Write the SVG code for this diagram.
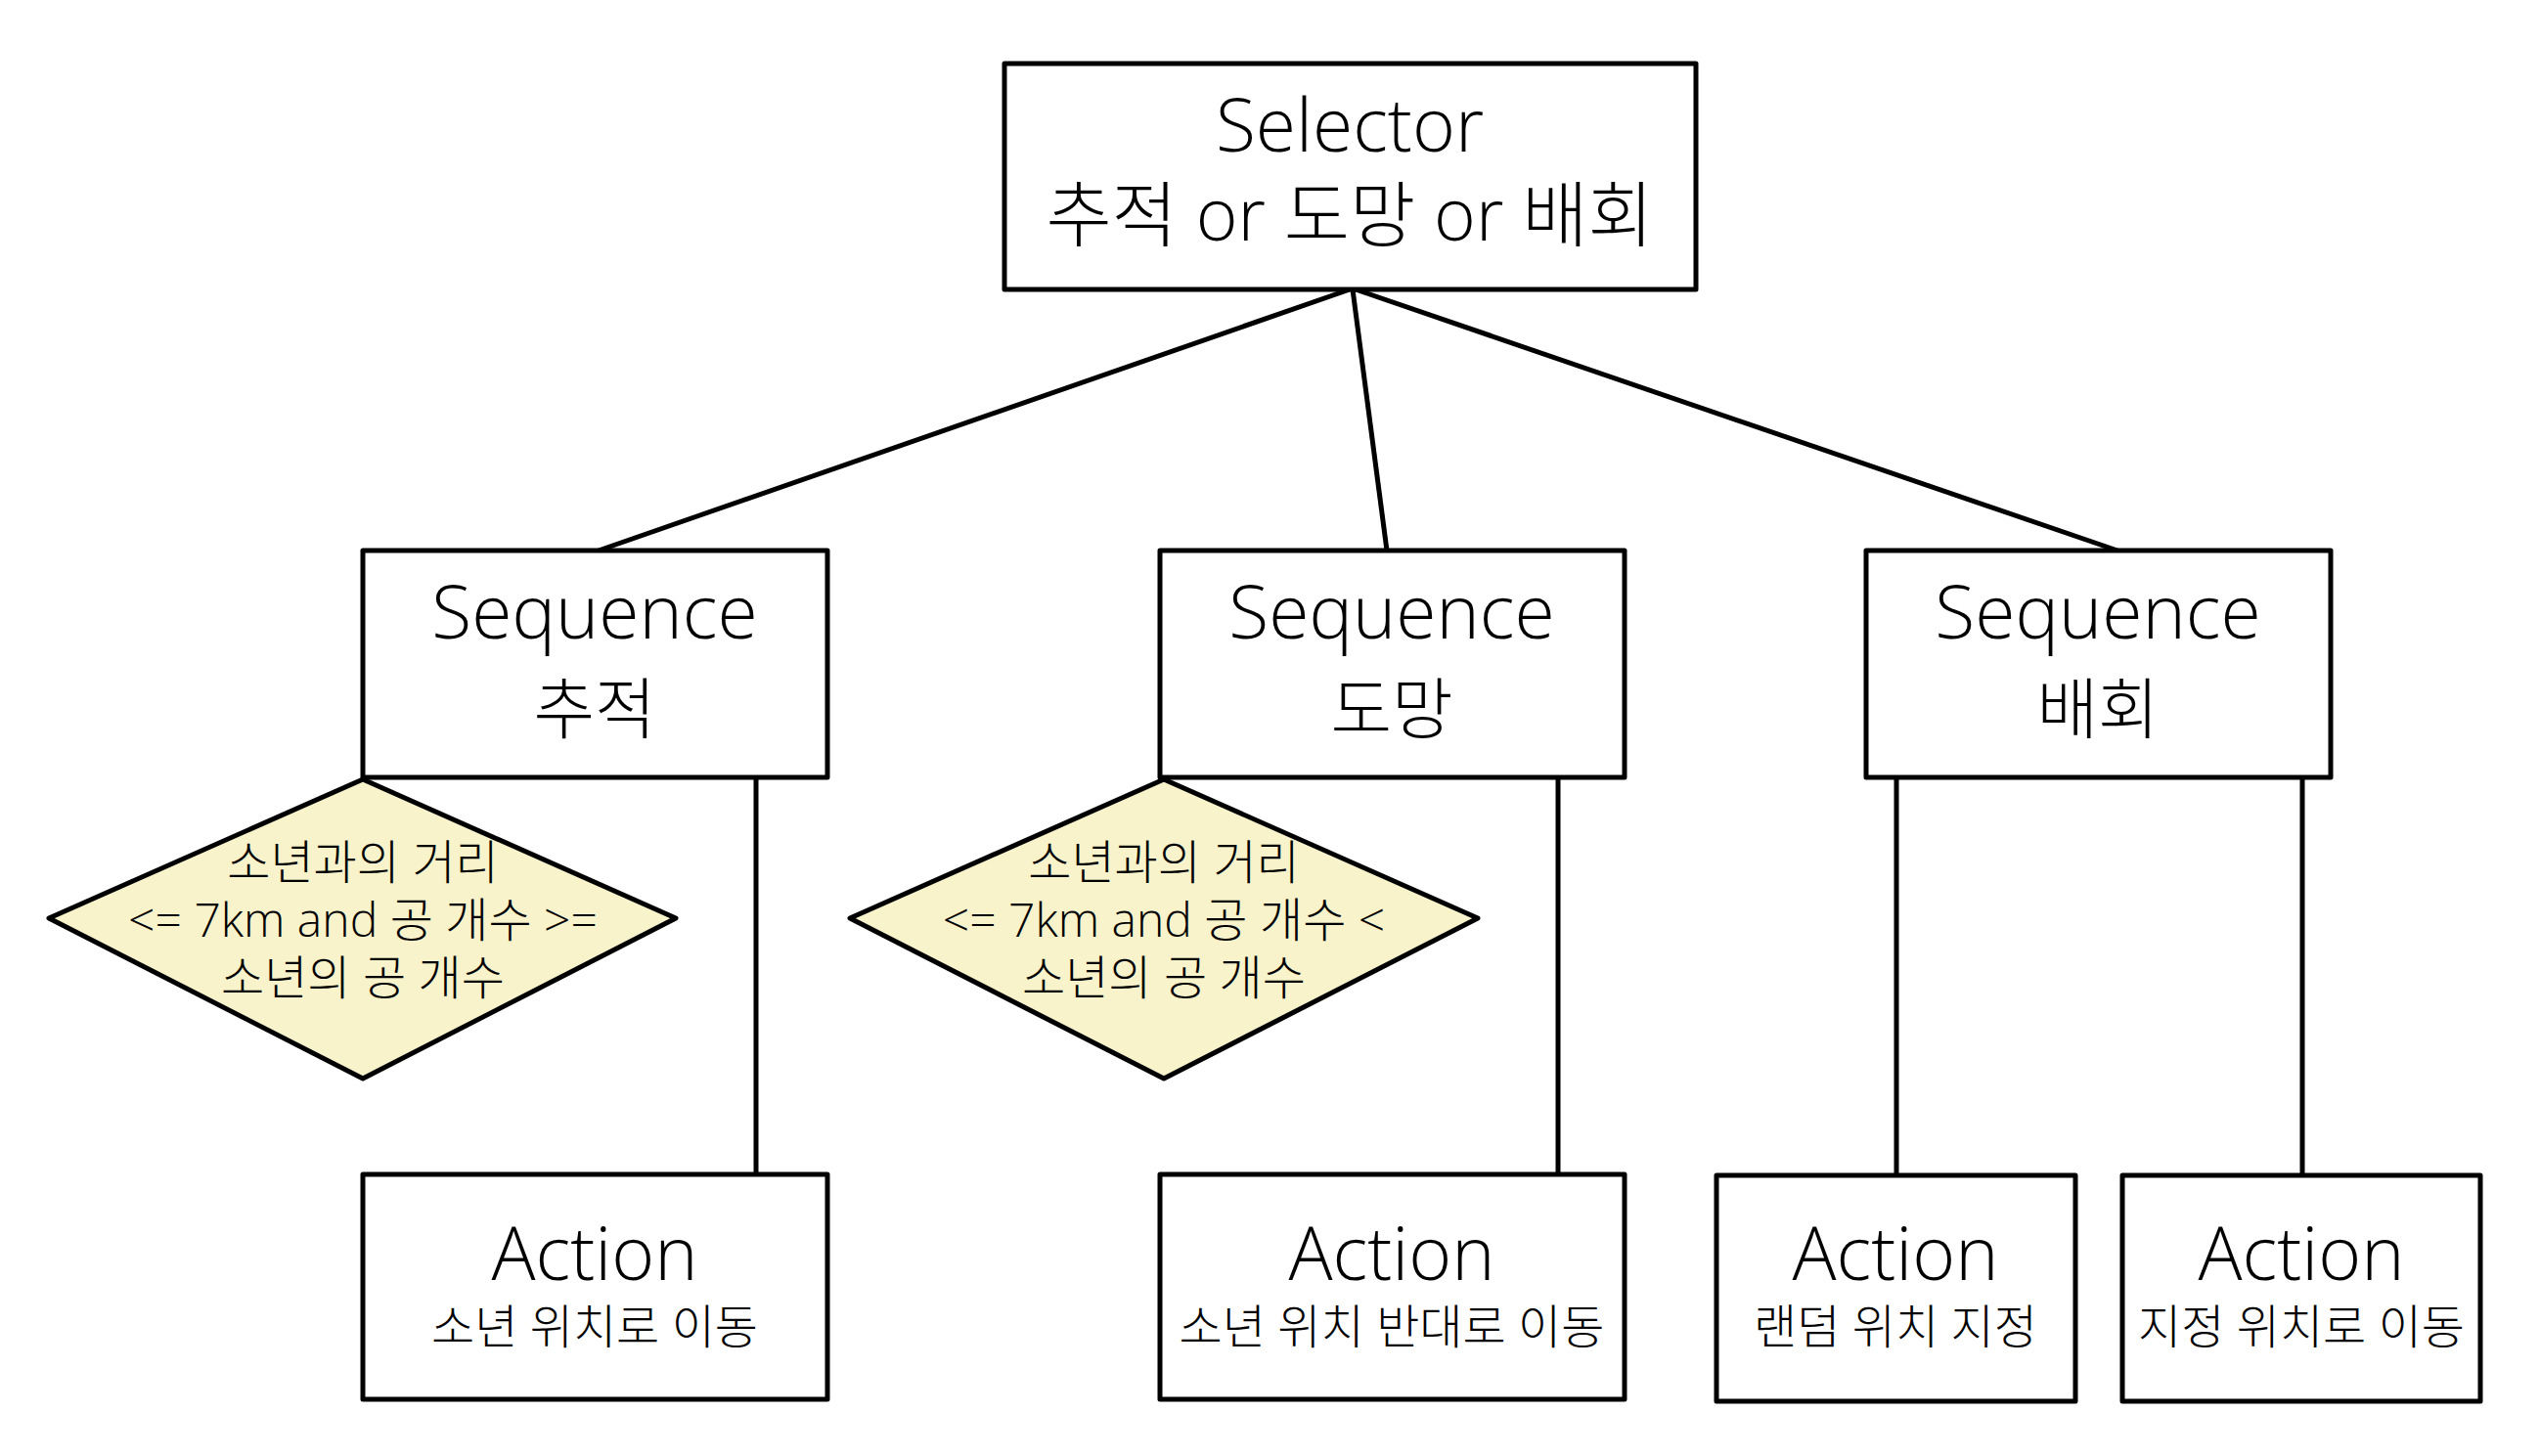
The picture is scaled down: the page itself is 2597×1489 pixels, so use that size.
<svg xmlns="http://www.w3.org/2000/svg" width="2597" height="1489" viewBox="0 0 2597 1489">
<style>
.box{fill:#ffffff;stroke:#000000;stroke-width:5;stroke-linejoin:round}
.dia{fill:#F8F3CB;stroke:#000000;stroke-width:5;stroke-linejoin:round}
.edge{stroke:#000000;stroke-width:5;fill:none}
text{font-family:"Open Sans","Noto Sans CJK KR",sans-serif;font-weight:300;fill:#000000;text-anchor:middle}
.big{font-size:75px}
.ko{font-family:"Noto Sans CJK KR",sans-serif;font-size:68px}
.sel2{font-size:73px}
.sub{font-size:48px}
.cond{font-size:48px}
</style>
<rect width="2597" height="1489" fill="#ffffff"/>
<g id="connectors">
<line class="edge" x1="1380" y1="296" x2="612" y2="563"/>
<line class="edge" x1="1383" y1="296" x2="1418" y2="563"/>
<line class="edge" x1="1386" y1="296" x2="2165" y2="563"/>
<line class="edge" x1="773" y1="795" x2="773" y2="1201"/>
<line class="edge" x1="1593" y1="795" x2="1593" y2="1201"/>
<line class="edge" x1="1939" y1="795" x2="1939" y2="1202"/>
<line class="edge" x1="2354" y1="795" x2="2354" y2="1202"/>
</g>
<g id="selector">
<rect class="box" x="1027" y="65" width="707" height="231"/>
<text class="big" x="1380" y="155">Selector</text>
<text class="sel2" x="1380" y="246">추적 or 도망 or 배회</text>
</g>
<g id="seq-chase">
<rect class="box" x="371" y="563" width="475" height="232"/>
<text class="big" x="608" y="653">Sequence</text>
<text class="ko" x="608" y="750">추적</text>
</g>
<g id="seq-flee">
<rect class="box" x="1186" y="563" width="475" height="232"/>
<text class="big" x="1423" y="653">Sequence</text>
<text class="ko" x="1423" y="750">도망</text>
</g>
<g id="seq-wander">
<rect class="box" x="1908" y="563" width="475" height="232"/>
<text class="big" x="2145" y="653">Sequence</text>
<text class="ko" x="2145" y="750">배회</text>
</g>
<g id="cond-chase">
<polygon class="dia" points="371,797 691,939 371,1103 50,939"/>
<text class="cond" x="371" y="899">소년과의 거리</text>
<text class="cond" x="371" y="958">&lt;= 7km and 공 개수 &gt;=</text>
<text class="cond" x="371" y="1017">소년의 공 개수</text>
</g>
<g id="cond-flee">
<polygon class="dia" points="1190,797 1511,939 1190,1103 869,939"/>
<text class="cond" x="1190" y="899">소년과의 거리</text>
<text class="cond" x="1190" y="958">&lt;= 7km and 공 개수 &lt;</text>
<text class="cond" x="1190" y="1017">소년의 공 개수</text>
</g>
<g id="act-chase">
<rect class="box" x="371" y="1201" width="475" height="230"/>
<text class="big" x="608" y="1309">Action</text>
<text class="sub" x="608" y="1374">소년 위치로 이동</text>
</g>
<g id="act-flee">
<rect class="box" x="1186" y="1201" width="475" height="230"/>
<text class="big" x="1423" y="1309">Action</text>
<text class="sub" x="1423" y="1374">소년 위치 반대로 이동</text>
</g>
<g id="act-random">
<rect class="box" x="1755" y="1202" width="367" height="231"/>
<text class="big" x="1938" y="1309">Action</text>
<text class="sub" x="1938" y="1374">랜덤 위치 지정</text>
</g>
<g id="act-goto">
<rect class="box" x="2170" y="1202" width="366" height="231"/>
<text class="big" x="2353" y="1309">Action</text>
<text class="sub" x="2353" y="1374">지정 위치로 이동</text>
</g>
</svg>
